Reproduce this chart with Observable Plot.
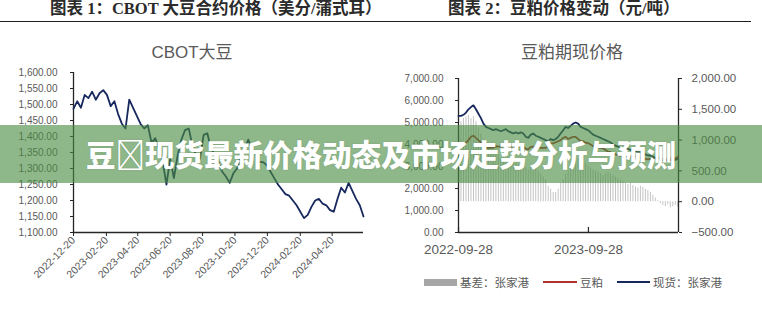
<!DOCTYPE html>
<html>
<head>
<meta charset="utf-8">
<script src="https://cdn.jsdelivr.net/npm/d3@7"></script>
<script src="https://cdn.jsdelivr.net/npm/@observablehq/plot@0.6"></script>
<style>
  body { margin: 0; background: #fff; }
  #wrap { position: relative; width: 762px; height: 309px; overflow: hidden; background: #fff;
          font-family: "Liberation Sans", "Noto Sans CJK SC", sans-serif; }
  .fig-title { position: absolute; top: 0; white-space: nowrap; font-weight: bold; font-size: 16.5px;
               line-height: 18px; color: #2b2b2b; font-family: "Liberation Serif", "Noto Sans CJK SC", serif; }
  #rule { position: absolute; left: 0; top: 20.5px; width: 751px; height: 1.5px; background: #1e1e1e; }
  .chart-title { position: absolute; top: 38px; transform: translateX(-50%); white-space: nowrap;
                 font-size: 17px; color: #595959; font-family: "Liberation Sans", "Noto Sans CJK SC", sans-serif; }
  .plot { position: absolute; }
  #legend { position: absolute; top: 274px; left: 424px; height: 16px; display: flex; align-items: center;
            font-size: 11.5px; color: #595959; white-space: nowrap; font-family: "Noto Sans CJK SC", sans-serif; }
  #legend .sw { display: inline-block; margin-right: 3px; }
  #legend .item { display: flex; align-items: center; margin-right: 14px; }
  #banner { position: absolute; left: 0; top: 125px; width: 762px; height: 58px;
            background: rgba(74, 140, 66, 0.62); }
  #banner span { position: absolute; left: 0; right: 0; top: 50%; transform: translateY(-52%); text-align: center;
                 color: #fff; font-weight: 900; font-size: 29.5px; line-height: 1; white-space: nowrap;
                 font-family: "Noto Sans CJK SC", sans-serif; text-shadow: 0 0 2px rgba(0,0,0,0.15); }
</style>
</head>
<body>
<div id="wrap">
  <div class="fig-title" style="left:50px">图表 1：CBOT 大豆合约价格（美分/蒲式耳）</div>
  <div class="fig-title" style="left:448px">图表 2：豆粕价格变动（元/吨）</div>
  <div id="rule"></div>
  <div class="chart-title" style="left:192px">CBOT大豆</div>
  <div class="chart-title" style="left:572px">豆粕期现价格</div>
  <div id="left" class="plot" style="left:0px;top:62px"></div>
  <div id="right" class="plot" style="left:381px;top:62px"></div>
  <div id="legend">
    <div class="item"><span class="sw" style="width:33px;height:7px;background:#a6a6a6"></span>基差：张家港</div>
    <div class="item"><span class="sw" style="width:34px;height:2.5px;background:#b0302c"></span>豆粕</div>
    <div class="item"><span class="sw" style="width:33px;height:2.5px;background:#17285e"></span>现货：张家港</div>
  </div>
  <div id="banner"><span>豆&#xE000;现货最新价格动态及市场走势分析与预测</span></div>
</div>
<script>
// ---- CBOT soybeans, weekly closes (US cents / bushel) ----
const cbotStart = "2022-12-20";
const cbotEnd = "2024-06-18";
const cbotValues = [1487,1510,1490,1530,1520,1540,1515,1535,1545,1530,
  1495,1510,1470,1440,1425,1515,1490,1465,1440,1425,
  1435,1380,1395,1360,1320,1250,1330,1270,1340,1390,
  1420,1425,1370,1340,1330,1405,1410,1360,1345,1320,
  1290,1275,1255,1285,1300,1340,1360,1390,1360,1350,
  1320,1320,1310,1290,1270,1250,1235,1220,1215,1200,
  1185,1165,1145,1155,1180,1200,1205,1190,1185,1170,
  1165,1205,1240,1225,1255,1230,1205,1185,1150];
const cbotTicks = ["2022-12-20","2023-02-20","2023-04-20","2023-06-20","2023-08-20",
  "2023-10-20","2023-12-20","2024-02-20","2024-04-20"];
const cbotYTicks = [1100,1150,1200,1250,1300,1350,1400,1450,1500,1550,1600];

// ---- Soybean meal, weekly (yuan / tonne) ----
const mealStart = "2022-09-28";
const mealEnd = "2024-06-07";
const spotZJG = [5300,5300,5350,5450,5600,5700,5780,5600,5400,5200,
  4950,4800,4750,4700,4650,4700,4650,4600,4650,4700,
  4600,4550,4500,4550,4500,4550,4500,4350,4300,4450,
  4500,4400,4350,4300,4250,4200,4150,4250,4200,4250,
  4350,4500,4650,4800,4750,4850,4950,5000,4950,4800,
  4750,4700,4650,4550,4450,4400,4350,4300,4250,4200,
  4150,4100,4000,3950,3900,3850,3850,3800,3800,3750,
  3750,3700,3650,3650,3600,3550,3500,3500,3450,3400,
  3400,3350,3300,3300,3250,3300,3270,3300,3350];
const mealFutures = [4050,4000,4000,4070,4200,4350,4400,4300,4200,4100,
  3950,3850,3850,3850,3850,3920,3900,3900,3930,4000,
  3920,3900,3850,3930,3900,3950,3920,3800,3780,3890,
  3900,3850,3850,3850,3850,3850,3900,4050,4050,4100,
  4150,4200,4300,4350,4250,4300,4350,4350,4250,4150,
  4150,4080,4070,4000,3930,3900,3870,3850,3830,3750,
  3670,3650,3580,3550,3520,3500,3520,3500,3520,3450,
  3490,3460,3430,3400,3370,3350,3320,3350,3350,3340,
  3380,3380,3360,3380,3300,3400,3350,3360,3440];
const basisZJG = [1250,1300,1350,1380,1400,1350,1380,1300,1200,1100,
  1000,950,900,850,800,780,750,700,720,700,
  680,650,650,620,600,600,580,550,520,560,
  600,550,500,450,400,350,250,200,150,150,
  200,300,350,450,500,550,600,650,700,650,
  600,620,580,550,520,500,480,450,420,450,
  480,450,420,400,380,350,330,300,280,300,
  260,240,220,250,230,200,180,150,100,60,
  20,-30,-60,-80,-50,-100,-80,-60,-90];
const mealTicks = ["2022-09-28","2023-09-28"];
const mealLeftTicks = [0,1000,2000,3000,4000,5000,6000,7000];
const basisTicks = [-500,0,500,1000,1500,2000];

const parse = d3.utcParse("%Y-%m-%d");
const fmt = d3.format(",.2f");
const weekly = (start, values) => values.map((v, i) => ({date: d3.utcDay.offset(parse(start), 7 * i), v}));

const ink = "#595959";
const axisInk = "#262626";

// Left: CBOT soybeans
const cbot = weekly(cbotStart, cbotValues);
const leftPlot = Plot.plot({
  width: 380, height: 240,
  marginLeft: 73, marginRight: 17, marginTop: 10, marginBottom: 70,
  style: {fontSize: "10px", fontFamily: "Liberation Sans, sans-serif", color: ink, background: "transparent", overflow: "visible"},
  x: {type: "utc", domain: [parse(cbotStart), parse(cbotEnd)]},
  y: {domain: [1100, 1600]},
  marks: [
    Plot.axisY({ticks: cbotYTicks, tickFormat: fmt, tickSize: 3, tickPadding: 13, stroke: axisInk, label: null, fill: ink}),
    Plot.axisX({ticks: cbotTicks.map(parse), tickFormat: d3.utcFormat("%Y-%m-%d"), tickRotate: -45, tickSize: 4,
                tickPadding: 2, fontSize: 10.5, stroke: axisInk, label: null, fill: ink}),
    Plot.ruleX([parse(cbotStart)], {stroke: axisInk, strokeWidth: 1.3}),
    Plot.ruleY([1100], {stroke: axisInk, strokeWidth: 1.3}),
    Plot.line(cbot, {x: "date", y: "v", stroke: "#17285e", strokeWidth: 1.8, strokeLinejoin: "round"})
  ]
});
document.getElementById("left").append(leftPlot);

// Right: soybean meal spot, futures and basis (basis on the right-hand axis)
const toLeft = b => (b + 500) * 7000 / 2500;   // right axis [-500, 2000] shares the left axis [0, 7000] extent
const fromLeft = y => y * 2500 / 7000 - 500;
const dates = spotZJG.map((_, i) => d3.utcDay.offset(parse(mealStart), 7 * i));
const meal = dates.map((d, i) => ({date: d, spot: spotZJG[i], fut: mealFutures[i], basis: basisZJG[i]}));

const rightPlot = Plot.plot({
  width: 381, height: 200,
  marginLeft: 77, marginRight: 84, marginTop: 16, marginBottom: 30,
  style: {fontSize: "10px", fontFamily: "Liberation Sans, sans-serif", color: ink, background: "transparent", overflow: "visible"},
  x: {type: "utc", domain: [parse(mealStart), parse(mealEnd)]},
  y: {domain: [0, 7000]},
  marks: [
    Plot.ruleX(meal, {x: "date", y1: toLeft(0), y2: d => toLeft(d.basis), stroke: "#c4c4c4", strokeWidth: 1}),
    Plot.axisY({anchor: "left", ticks: mealLeftTicks, tickFormat: fmt, tickSize: 3, tickPadding: 12, stroke: axisInk, label: null, fill: ink}),
    Plot.axisY({anchor: "right", ticks: basisTicks.map(toLeft), tickFormat: d => fmt(Math.round(fromLeft(d))),
                tickSize: 3, tickPadding: 10, fontSize: 11.5, stroke: axisInk, label: null, fill: ink}),
    Plot.axisX({ticks: mealTicks.map(parse), tickFormat: d3.utcFormat("%Y-%m-%d"), tickSize: 3, tickPadding: 9,
                stroke: "none", grid: false, fontSize: 13.5, label: null, fill: ink}),
    // short inward tick marks on the date axis
    Plot.ruleX(mealTicks.map(parse), {x: d => d, y1: () => 0, y2: () => 230, stroke: axisInk, strokeWidth: 1.2}),
    Plot.ruleX([parse(mealStart)], {stroke: axisInk, strokeWidth: 1.3}),
    Plot.ruleX([parse(mealEnd)], {stroke: axisInk, strokeWidth: 1.3}),
    Plot.ruleY([0], {stroke: axisInk, strokeWidth: 1.3}),
    Plot.line(meal, {x: "date", y: "fut", stroke: "#a8322c", strokeWidth: 1.8, strokeLinejoin: "round"}),
    Plot.line(meal, {x: "date", y: "spot", stroke: "#17285e", strokeWidth: 1.8, strokeLinejoin: "round"})
  ]
});
document.getElementById("right").append(rightPlot);
</script>
</body>
</html>
